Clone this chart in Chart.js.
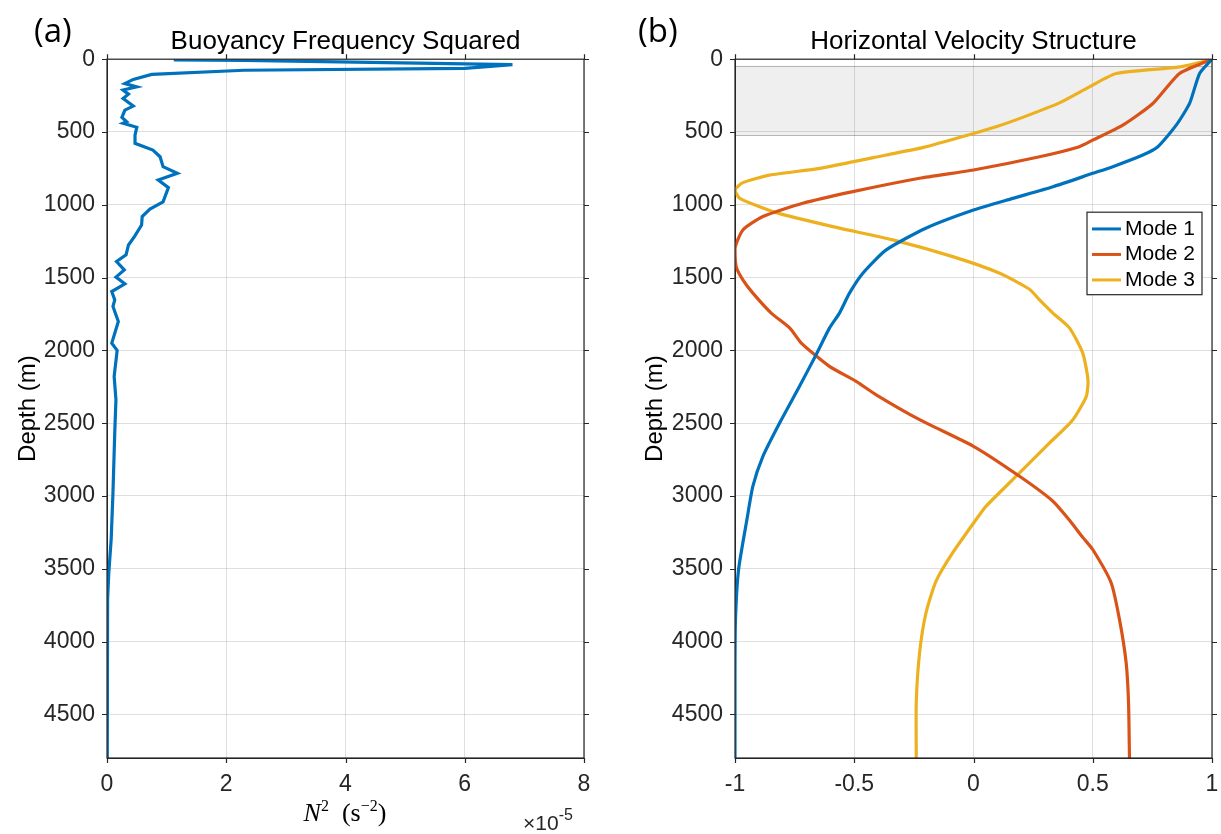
<!DOCTYPE html>
<html>
<head>
<meta charset="utf-8">
<script src="https://cdn.jsdelivr.net/npm/chart.js@4.4.0/dist/chart.umd.min.js"></script>
<style>
  body { margin: 0; background: #fff; width: 1221px; height: 834px; position: relative; overflow: hidden; font-family: 'Liberation Sans', Arial, sans-serif; }
  .panel { position: absolute; top: 0; height: 834px; }
  #leftWrap { left: 0; width: 610px; }
  #rightWrap { left: 610px; width: 611px; }
  .tag { position: absolute; top: 7px; font-family: 'Open Sans', sans-serif; font-size: 33px; color: #000; }
  #n2Label { position: absolute; left: 245px; width: 200px; top: 797px; text-align: center; font-family: 'Liberation Serif', 'DejaVu Serif', serif; font-size: 26px; color: #000; }
  #n2Label sup, #expLabel sup { font-size: 16px; vertical-align: 10px; }
  #expLabel { position: absolute; left: 523px; top: 806px; font-size: 21px; color: #262626; }
</style>
</head>
<body>
<div class="panel" id="leftWrap"><canvas id="n2Chart"></canvas></div>
<div class="panel" id="rightWrap"><canvas id="modeChart"></canvas></div>
<div class="tag" style="left:34px">(a)</div>
<div class="tag" style="left:638px">(b)</div>
<div id="n2Label"><i>N</i><sup>2</sup>&nbsp;&nbsp;(s<sup>&minus;2</sup>)</div>
<div id="expLabel">&times;10<sup>-5</sup></div>
<script>
// Buoyancy frequency squared profile (values in units of 1e-5 s^-2)
const n2Depth = [5, 8, 37, 63, 76, 104, 139, 167, 190, 212, 240, 270, 322, 350, 400, 430, 440, 468, 521, 578,
  624, 670, 738, 784, 830, 882, 980, 1030, 1081, 1139, 1219, 1276, 1344, 1390, 1447, 1497, 1543, 1596, 1653, 1699,
  1802, 1950, 2000, 2179, 2339, 2565, 2979, 3299, 3528, 3711, 4200, 4800];
const n2Values = [1.12, 2.3, 6.8, 6.0, 2.3, 0.75, 0.44, 0.30, 0.50, 0.27, 0.36, 0.27, 0.44, 0.30, 0.25, 0.33, 0.27, 0.50, 0.47, 0.47,
  0.77, 0.89, 0.94, 1.18, 0.86, 1.03, 0.94, 0.72, 0.59, 0.58, 0.46, 0.36, 0.32, 0.16, 0.29, 0.15, 0.30, 0.08, 0.13, 0.10,
  0.19, 0.08, 0.17, 0.12, 0.15, 0.13, 0.10, 0.07, 0.03, 0.01, 0.01, 0.0];

// Horizontal velocity modes
const mode1Depth = [0, 98, 304, 453, 601, 658, 738, 784, 876, 956, 1036, 1161, 1310, 1470, 1607, 1744, 1847, 2030,
  2248, 2499, 2728, 2933, 3162, 3505, 3848, 4200, 4800];
const mode1 = [1.0, 0.948, 0.906, 0.85, 0.773, 0.71, 0.584, 0.50, 0.333, 0.165, 0.0, -0.2, -0.366, -0.464, -0.52, -0.562, -0.604, -0.66,
  -0.73, -0.813, -0.883, -0.925, -0.95, -0.985, -0.998, -1.0, -1.0];

const mode2Depth = [0, 98, 304, 453, 556, 601, 670, 761, 818, 910, 990, 1081, 1173, 1298, 1425, 1516, 1607, 1744, 1847,
  1950, 2110, 2213, 2305, 2476, 2659, 2865, 3036, 3162, 3288, 3368, 3596, 3848, 4145, 4419, 4800];
const mode2 = [1.0, 0.864, 0.752, 0.626, 0.50, 0.444, 0.277, 0.0, -0.226, -0.506, -0.716, -0.883, -0.967, -1.0, -0.995, -0.967, -0.925, -0.848, -0.77,
  -0.722, -0.604, -0.492, -0.408, -0.226, 0.0, 0.193, 0.333, 0.40, 0.46, 0.50, 0.577, 0.612, 0.64, 0.65, 0.654];

const mode3Depth = [0, 53, 98, 190, 300, 391, 464, 510, 606, 658, 750, 796, 848, 898, 956, 1054, 1150, 1241, 1356,
  1470, 1580, 1650, 1744, 1847, 2019, 2202, 2316, 2476, 2636, 2842, 3070, 3162, 3390, 3585, 3802, 4076, 4419, 4800];
const mode3 = [1.0, 0.864, 0.598, 0.486, 0.36, 0.22, 0.095, 0.0, -0.21, -0.366, -0.645, -0.855, -0.967, -1.0, -0.98, -0.827, -0.59, -0.338, -0.087,
  0.11, 0.235, 0.275, 0.333, 0.403, 0.458, 0.48, 0.473, 0.417, 0.319, 0.193, 0.053, 0.011, -0.087, -0.157, -0.199, -0.226, -0.24, -0.24];

const modeLabels = ['Mode 1', 'Mode 2', 'Mode 3'];
const modeColors = ['#0072BD', '#D95319', '#EDB120'];
const shadeDepth = [45, 520];

// tick labels
const depthTicks = [0, 500, 1000, 1500, 2000, 2500, 3000, 3500, 4000, 4500];
const n2Ticks = [0, 2, 4, 6, 8];
const modeTicks = [-1, -0.5, 0, 0.5, 1];

const depthMax = 4800;
const axisColor = '#262626';
const gridColor = 'rgba(38,38,38,0.15)';
const fontFamily = "'Liberation Sans', Arial, Helvetica, sans-serif";

function toPoints(xs, ys) {
  return xs.map((x, i) => ({ x: x, y: ys[i] }));
}

function fixedTicks(values) {
  return scale => { scale.ticks = values.map(v => ({ value: v })); };
}

// draws the full box plus outward tick marks on all four sides
const boxTicks = {
  id: 'boxTicks',
  afterDraw(chart) {
    const { ctx, chartArea: a, scales } = chart;
    ctx.save();
    ctx.strokeStyle = axisColor;
    ctx.lineWidth = 1.2;
    ctx.strokeRect(a.left, a.top, a.right - a.left, a.bottom - a.top);
    const len = 5;
    ctx.beginPath();
    scales.x.ticks.forEach(t => {
      const px = Math.round(scales.x.getPixelForValue(t.value)) + 0.5;
      ctx.moveTo(px, a.bottom); ctx.lineTo(px, a.bottom + len);
      ctx.moveTo(px, a.top); ctx.lineTo(px, a.top - len);
    });
    scales.y.ticks.forEach(t => {
      const py = Math.round(scales.y.getPixelForValue(t.value)) + 0.5;
      ctx.moveTo(a.left, py); ctx.lineTo(a.left - len, py);
      ctx.moveTo(a.right, py); ctx.lineTo(a.right + len, py);
    });
    ctx.stroke();
    ctx.restore();
  }
};

// grey band for the mixed layer
const shadeBand = {
  id: 'shadeBand',
  beforeDraw(chart, args, opts) {
    if (!opts.range) return;
    const { ctx, chartArea: a, scales } = chart;
    const y0 = scales.y.getPixelForValue(opts.range[0]);
    const y1 = scales.y.getPixelForValue(opts.range[1]);
    ctx.save();
    ctx.fillStyle = '#efefef';
    ctx.fillRect(a.left, y0, a.right - a.left, y1 - y0);
    ctx.strokeStyle = '#b5b5b5';
    ctx.lineWidth = 1;
    ctx.beginPath();
    ctx.moveTo(a.left, Math.round(y0) + 0.5); ctx.lineTo(a.right, Math.round(y0) + 0.5);
    ctx.moveTo(a.left, Math.round(y1) + 0.5); ctx.lineTo(a.right, Math.round(y1) + 0.5);
    ctx.stroke();
    ctx.restore();
  }
};

// MATLAB-style boxed legend placed inside the axes
const boxLegend = {
  id: 'boxLegend',
  afterDraw(chart, args, opts) {
    if (!opts.show) return;
    const { ctx, chartArea: a } = chart;
    const sets = chart.data.datasets;
    const w = opts.width, rowH = opts.rowHeight;
    const h = rowH * sets.length + 6;
    const x0 = a.right - opts.right - w;
    const y0 = a.top + opts.top;
    ctx.save();
    ctx.fillStyle = '#fff';
    ctx.fillRect(x0, y0, w, h);
    ctx.strokeStyle = axisColor;
    ctx.lineWidth = 1.2;
    ctx.strokeRect(x0, y0, w, h);
    ctx.font = '21px ' + fontFamily;
    ctx.textBaseline = 'middle';
    ctx.fillStyle = '#000';
    sets.forEach((ds, i) => {
      const cy = y0 + 3 + rowH * (i + 0.5) + 1;
      ctx.strokeStyle = ds.borderColor;
      ctx.lineWidth = 3;
      ctx.beginPath();
      ctx.moveTo(x0 + 5, cy); ctx.lineTo(x0 + 34, cy);
      ctx.stroke();
      ctx.fillText(ds.label, x0 + 38, cy);
    });
    ctx.restore();
  }
};

function baseOptions(cfg) {
  return {
    responsive: true,
    maintainAspectRatio: false,
    animation: false,
    layout: { padding: { left: 0, right: cfg.padRight, top: 0, bottom: 0 } },
    scales: {
      x: {
        type: 'linear',
        min: cfg.xMin, max: cfg.xMax,
        afterFit: s => { s.height = 76; s.paddingLeft = 0; s.paddingRight = 0; },
        afterBuildTicks: fixedTicks(cfg.xTicks),
        ticks: { color: axisColor, font: { family: fontFamily, size: 23 }, padding: 13, maxRotation: 0, callback: v => String(v) },
        grid: { color: gridColor, drawTicks: false },
        border: { color: axisColor }
      },
      y: {
        type: 'linear',
        reverse: true,
        min: 0, max: depthMax,
        afterFit: s => { s.width = cfg.yWidth; },
        afterBuildTicks: fixedTicks(depthTicks),
        ticks: { color: axisColor, font: { family: fontFamily, size: 23 }, padding: 12, callback: v => String(v) },
        grid: { color: gridColor, drawTicks: false },
        border: { color: axisColor },
        title: { display: true, text: 'Depth (m)', color: '#000', font: { family: fontFamily, size: 24 }, padding: cfg.titlePad }
      }
    },
    plugins: {
      legend: { display: false },
      tooltip: { enabled: false },
      title: {
        display: true,
        fullSize: false,
        text: cfg.title,
        color: '#000',
        font: { family: fontFamily, size: 26, weight: 'normal' },
        padding: { top: 26, bottom: 2 }
      },
      shadeBand: { range: cfg.shade },
      boxLegend: { show: cfg.legend, width: 115, rowHeight: 25.5, right: 10, top: 153 }
    }
  };
}

new Chart(document.getElementById('n2Chart'), {
  type: 'scatter',
  data: {
    datasets: [{
      label: 'N2',
      data: toPoints(n2Values, n2Depth),
      showLine: true,
      borderColor: '#0072BD',
      borderWidth: 3.2,
      pointRadius: 0,
      tension: 0
    }]
  },
  options: baseOptions({ padRight: 26, xMin: 0, xMax: 8, xTicks: n2Ticks, yWidth: 107, titlePad: 14, title: 'Buoyancy Frequency Squared', shade: null, legend: false }),
  plugins: [shadeBand, boxTicks, boxLegend]
});

const modeSeries = [[mode1, mode1Depth], [mode2, mode2Depth], [mode3, mode3Depth]];

new Chart(document.getElementById('modeChart'), {
  type: 'scatter',
  data: {
    datasets: modeSeries.map((m, i) => ({
      label: modeLabels[i],
      data: toPoints(m[0], m[1]),
      showLine: true,
      borderColor: modeColors[i],
      borderWidth: 3.2,
      pointRadius: 0,
      tension: 0.2
    }))
  },
  options: baseOptions({ padRight: 9, xMin: -1, xMax: 1, xTicks: modeTicks, yWidth: 125, titlePad: 31, title: 'Horizontal Velocity Structure', shade: shadeDepth, legend: true }),
  plugins: [shadeBand, boxTicks, boxLegend]
});
</script>
</body>
</html>
